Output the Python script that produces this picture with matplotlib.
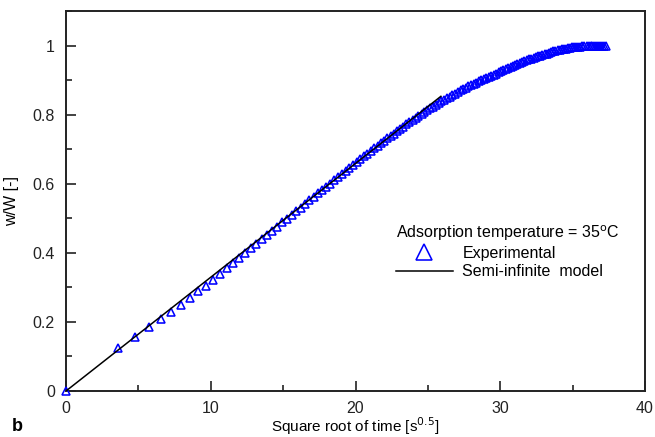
import matplotlib
matplotlib.use("Agg")
import matplotlib.pyplot as plt
from matplotlib.ticker import MultipleLocator

plt.rcParams["font.family"] = ["Liberation Sans", "DejaVu Sans"]

# experimental points: square root of time [s^0.5] vs w/W [-]
sqrt_time = [
    0.00, 3.61, 4.80, 5.74, 6.56, 7.28, 7.94, 8.54, 9.11, 9.64, 10.15,
    10.63, 11.09, 11.53, 11.96, 12.37, 12.77, 13.15, 13.53, 13.89, 14.25,
    14.59, 14.93, 15.26, 15.59, 15.91, 16.22, 16.52, 16.82, 17.12, 17.41,
    17.69, 17.97, 18.25, 18.52, 18.79, 19.05, 19.31, 19.57, 19.82, 20.07,
    20.32, 20.57, 20.81, 21.05, 21.28, 21.52, 21.75, 21.98, 22.20, 22.43,
    22.65, 22.87, 23.09, 23.30, 23.52, 23.73, 23.94, 24.15, 24.35, 24.56,
    24.76, 24.96, 25.16, 25.36, 25.55, 25.75, 25.94, 26.13, 26.32, 26.51,
    26.70, 26.89, 27.07, 27.26, 27.44, 27.62, 27.80, 27.98, 28.16, 28.34,
    28.51, 28.69, 28.86, 29.03, 29.21, 29.38, 29.55, 29.72, 29.88, 30.05,
    30.22, 30.38, 30.55, 30.71, 30.87, 31.03, 31.19, 31.35, 31.51, 31.67,
    31.83, 31.98, 32.14, 32.30, 32.45, 32.60, 32.76, 32.91, 33.06, 33.21,
    33.36, 33.51, 33.66, 33.81, 33.96, 34.10, 34.25, 34.39, 34.54, 34.68,
    34.83, 34.97, 35.11, 35.26, 35.40, 35.54, 35.68, 35.82, 35.96, 36.10,
    36.24, 36.37, 36.51, 36.65, 36.78, 36.92, 37.05, 37.19, 37.32,
]
w_over_W = [
    0.000, 0.123, 0.157, 0.185, 0.208, 0.230, 0.250, 0.270, 0.289, 0.305, 0.322,
    0.339, 0.355, 0.370, 0.385, 0.399, 0.413, 0.426, 0.439, 0.451, 0.464,
    0.476, 0.488, 0.499, 0.510, 0.521, 0.531, 0.542, 0.552, 0.562, 0.572,
    0.581, 0.591, 0.600, 0.610, 0.619, 0.628, 0.637, 0.645, 0.654, 0.662,
    0.671, 0.679, 0.687, 0.695, 0.702, 0.710, 0.717, 0.724, 0.731, 0.738,
    0.745, 0.752, 0.759, 0.765, 0.772, 0.778, 0.784, 0.790, 0.796, 0.802,
    0.807, 0.813, 0.818, 0.823, 0.828, 0.834, 0.839, 0.843, 0.848, 0.852,
    0.857, 0.861, 0.866, 0.870, 0.874, 0.878, 0.882, 0.886, 0.889, 0.893,
    0.896, 0.900, 0.903, 0.907, 0.910, 0.913, 0.916, 0.919, 0.923, 0.926,
    0.929, 0.932, 0.935, 0.938, 0.941, 0.944, 0.946, 0.949, 0.952, 0.954,
    0.957, 0.960, 0.962, 0.965, 0.967, 0.969, 0.971, 0.974, 0.976, 0.977,
    0.979, 0.981, 0.983, 0.985, 0.987, 0.988, 0.989, 0.990, 0.991, 0.992,
    0.994, 0.995, 0.995, 0.996, 0.997, 0.997, 0.998, 0.998, 0.999, 0.999,
    0.999, 0.999, 1.000, 1.000, 1.000, 1.000, 1.000, 1.000, 1.000,
]

# semi-infinite model (straight line)
model_x = [0.0, 25.9]
model_y = [0.0, 0.853]

fig = plt.figure(figsize=(6.55, 4.37), dpi=100)
ax = fig.add_axes([0.1008, 0.1053, 0.8839, 0.8695])

ax.plot(sqrt_time, w_over_W, linestyle="none", marker="^", markersize=5.5,
        markerfacecolor="none", markeredgecolor="#0000ff", markeredgewidth=1.15,
        label="Experimental", clip_on=False, zorder=3)
ax.plot(model_x, model_y, color="black", linewidth=1.1,
        label="Semi-infinite  model", zorder=4)

ax.set_xlim(0, 40)
ax.set_ylim(0, 1.1)
ax.xaxis.set_major_locator(MultipleLocator(10))
ax.xaxis.set_minor_locator(MultipleLocator(5))
ax.yaxis.set_minor_locator(MultipleLocator(0.1))
ax.set_yticks([0, 0.2, 0.4, 0.6, 0.8, 1.0])
ax.set_yticklabels(["0", "0.2", "0.4", "0.6", "0.8", "1"])

ax.tick_params(which="both", direction="in", top=False, right=False,
               labelsize=11.5, colors="#222222")
ax.tick_params(which="major", length=7, width=1.2)
ax.tick_params(which="minor", length=4, width=1.2)
ax.tick_params(axis="x", which="major", pad=7)
ax.tick_params(axis="y", which="major", pad=8)
for sp in ax.spines.values():
    sp.set_linewidth(1.4)
    sp.set_color("#222222")

ax.set_xlabel("Square root of time [s$^{0.5}$]", fontsize=11, labelpad=0)
ax.set_ylabel("w/W [-]", fontsize=11.5, labelpad=10)

leg = ax.legend(title="Adsorption temperature = 35$^{\\rm o}$C",
                loc="center", bbox_to_anchor=(0.763, 0.368),
                frameon=False, fontsize=11.5, title_fontsize=11.5,
                handlelength=3.55, handletextpad=0.6, labelspacing=0.2,
                markerscale=2.2, alignment="left")

fig.text(0.018, 0.014, "b", fontsize=13, fontweight="bold")

fig.savefig("out.png", dpi=100)
